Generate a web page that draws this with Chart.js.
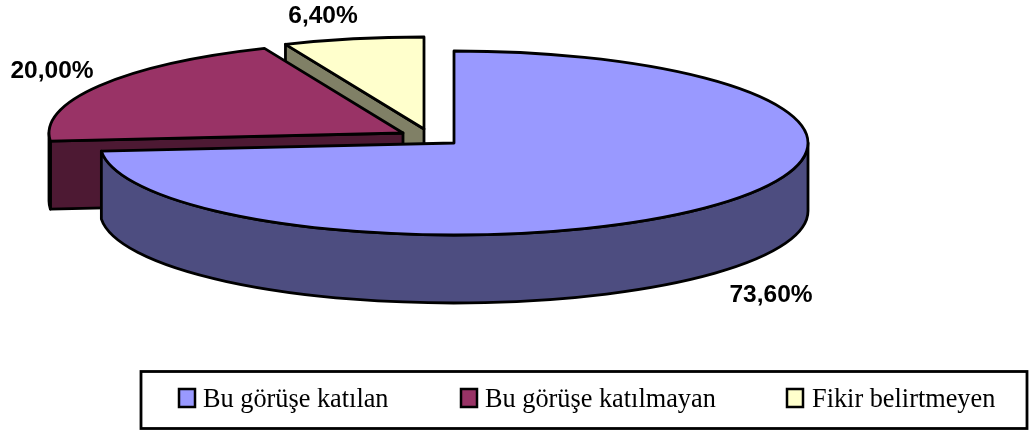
<!DOCTYPE html>
<html>
<head>
<meta charset="utf-8">
<style>html,body{margin:0;padding:0;background:#fff}canvas{display:block}</style>
<script src="https://cdn.jsdelivr.net/npm/chart.js@4/dist/chart.umd.min.js"></script>
</head>
<body>
<canvas id="c" width="1034" height="430"></canvas>
<script>
const categories = ["Bu görüşe katılan", "Bu görüşe katılmayan", "Fikir belirtmeyen"];
const percentValues = [73.6, 20.0, 6.4];
const topColors = ["#9999FF", "#993366", "#FFFFCC"];
const sideColors = ["#4D4D80", "#4D1933", "#808066"];

// 3D projection of the pie
const center = {x: 454, y: 143};
const radiusX = 354, radiusY = 92, depth = 68;
const explode = [[0, 0], [-51, -10], [-30, -14]];
const labelPos = [[323, 16], [52, 71], [771, 295]].reverse();
const legendBoxX = [179, 461, 787];
const legendTextX = [203, 485, 812];

function fmt(v){ return v.toFixed(2).replace('.', ',') + '%'; }

const pie3d = {
  id: 'pie3d',
  beforeDatasetDraw(chart, args) {
    const ctx = chart.ctx;
    const els = chart.getDatasetMeta(args.index).data;
    ctx.save();
    ctx.lineWidth = 2.8;
    ctx.strokeStyle = '#000';
    ctx.lineJoin = 'round';
    for (let i = els.length - 1; i >= 0; i--) {
      const el = els[i];
      const ax = center.x + explode[i][0], ay = center.y + explode[i][1];
      const a0 = el.startAngle, a1 = el.endAngle;
      const eps = 1e-6;
      const px = a => ax + radiusX * Math.cos(a), py = a => ay + radiusY * Math.sin(a);
      ctx.fillStyle = sideColors[i];
      // cut walls
      const cut = a => {
        ctx.beginPath();
        ctx.moveTo(ax, ay); ctx.lineTo(px(a), py(a));
        ctx.lineTo(px(a), py(a) + depth); ctx.lineTo(ax, ay + depth);
        ctx.closePath(); ctx.fill(); ctx.stroke();
      };
      if (Math.cos(a0) < -eps) cut(a0);
      if (Math.cos(a1) > eps) cut(a1);
      // rim wall (front half only)
      const r0 = Math.max(a0, 0), r1 = Math.min(a1, Math.PI);
      if (r1 > r0) {
        ctx.beginPath();
        ctx.ellipse(ax, ay, radiusX, radiusY, 0, r0, r1);
        ctx.lineTo(px(r1), py(r1) + depth);
        ctx.ellipse(ax, ay + depth, radiusX, radiusY, 0, r1, r0, true);
        ctx.closePath(); ctx.fill(); ctx.stroke();
      }
      // top face, drawn by the library's arc element in squashed space
      const R = el.outerRadius;
      ctx.save();
      ctx.translate(ax, ay);
      ctx.scale(radiusX / R, radiusY / R);
      ctx.translate(-el.x, -el.y);
      el.draw(ctx, chart.chartArea);
      ctx.restore();
      ctx.beginPath();
      ctx.moveTo(ax, ay);
      ctx.ellipse(ax, ay, radiusX, radiusY, 0, a0, a1);
      ctx.closePath();
      ctx.stroke();
    }
    ctx.restore();
    return false;
  },
  afterDraw(chart) {
    const ctx = chart.ctx;
    ctx.save();
    ctx.fillStyle = '#000';
    ctx.font = 'bold 24.5px "Liberation Sans"';
    ctx.textAlign = 'center';
    ctx.textBaseline = 'middle';
    percentValues.forEach((v, i) => ctx.fillText(fmt(v), labelPos[i][0], labelPos[i][1]));
    // legend
    ctx.lineWidth = 2.8;
    ctx.strokeStyle = '#000';
    ctx.strokeRect(141, 371.5, 886, 57);
    ctx.font = '26.3px "Liberation Serif"';
    ctx.textAlign = 'left';
    ctx.textBaseline = 'alphabetic';
    categories.forEach((t, i) => {
      ctx.fillStyle = topColors[i];
      ctx.fillRect(legendBoxX[i], 389, 16, 18);
      ctx.lineWidth = 2.5;
      ctx.strokeRect(legendBoxX[i], 389, 16, 18);
      ctx.fillStyle = '#000';
      ctx.fillText(t, legendTextX[i], 407);
    });
    ctx.restore();
  }
};

new Chart(document.getElementById('c'), {
  type: 'pie',
  data: {
    labels: categories,
    datasets: [{data: percentValues, backgroundColor: topColors, borderWidth: 0}]
  },
  options: {
    responsive: false,
    animation: false,
    plugins: {
      tooltip: {enabled: false},
      legend: {display: false}
    }
  },
  plugins: [pie3d]
});
</script>
</body>
</html>
